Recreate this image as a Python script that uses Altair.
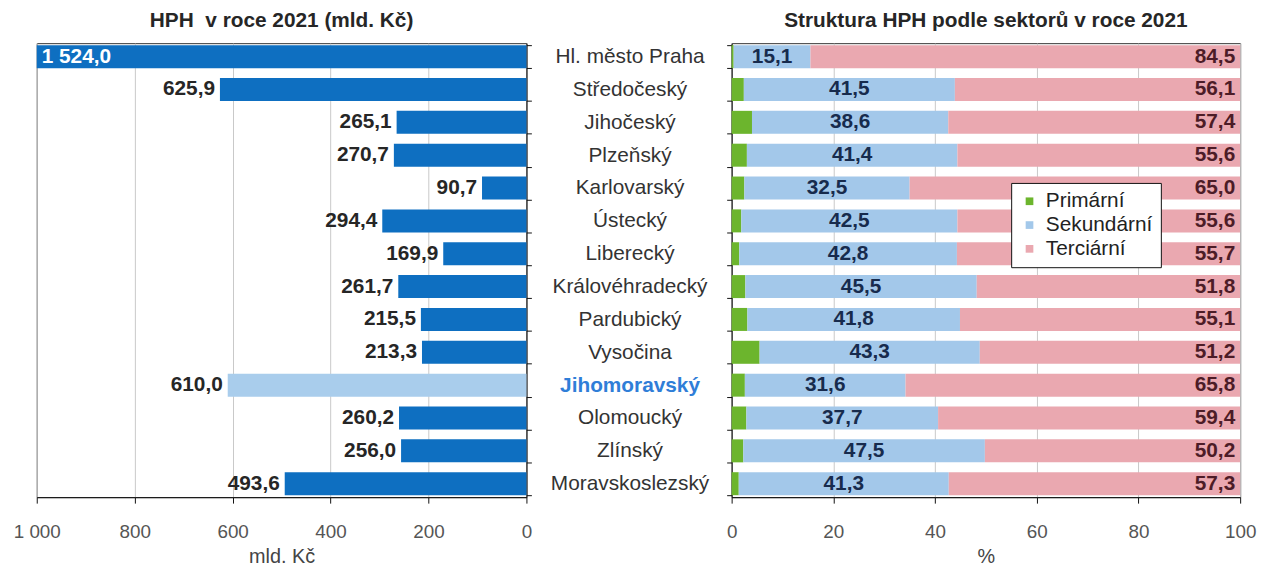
import altair as alt
import pandas as pd

FONT = "Liberation Sans, Arial, sans-serif"

regions = ["Hl. město Praha", "Středočeský", "Jihočeský", "Plzeňský", "Karlovarský",
           "Ústecký", "Liberecký", "Královéhradecký", "Pardubický", "Vysočina",
           "Jihomoravský", "Olomoucký", "Zlínský", "Moravskoslezský"]
hph = [1524.0, 625.9, 265.1, 270.7, 90.7, 294.4, 169.9, 261.7, 215.5, 213.3,
       610.0, 260.2, 256.0, 493.6]
primarni = [0.4, 2.4, 4.0, 3.0, 2.5, 1.9, 1.5, 2.7, 3.1, 5.5, 2.6, 2.9, 2.3, 1.4]
sekundarni = [15.1, 41.5, 38.6, 41.4, 32.5, 42.5, 42.8, 45.5, 41.8, 43.3, 31.6, 37.7, 47.5, 41.3]
terciarni = [84.5, 56.1, 57.4, 55.6, 65.0, 55.6, 55.7, 51.8, 55.1, 51.2, 65.8, 59.4, 50.2, 57.3]
sectors = ["Primární", "Sekundární", "Terciární"]
sector_colors = ["#6cb52d", "#a3c8ea", "#eaa8b0"]
highlight = "Jihomoravský"
left_ticks = [0, 200, 400, 600, 800, 1000]
right_ticks = [0, 20, 40, 60, 80, 100]


def cz(v):
    return f"{v:,.1f}".replace(",", " ").replace(".", ",")


left_df = pd.DataFrame({"region": regions, "hph": hph, "label": [cz(v) for v in hph]})
wide_df = pd.DataFrame({
    "region": regions, "prim": primarni, "sek": sekundarni, "ter": terciarni,
    "sek_label": [cz(v) for v in sekundarni], "ter_label": [cz(v) for v in terciarni],
})
rows = []
for i, r in enumerate(regions):
    for k, (s, vals) in enumerate(zip(sectors, [primarni, sekundarni, terciarni])):
        rows.append({"region": r, "sector": s, "value": vals[i], "ord": k})
long_df = pd.DataFrame(rows)

y_scale = alt.Scale(paddingInner=0.3, paddingOuter=0.06)
W_L, W_R, H = 494, 513, 458

# ---------- left panel ----------
base_l = alt.Chart(left_df).transform_calculate(xpos="min(datum.hph, 1000)")
x_scale_l = alt.Scale(domain=[0, 1000], reverse=True, clamp=True)
x_axis_l = alt.Axis(values=left_ticks, title="mld. Kč", grid=True, tickSize=6,
                    labelPadding=20, titlePadding=5, labelFlush=False,
                    labelExpr="replace(format(datum.value, ','), ',', ' ')")
x_l = alt.X("xpos:Q", scale=x_scale_l, axis=x_axis_l)
y_l = alt.Y("region:N", sort=regions, scale=y_scale,
            axis=alt.Axis(orient="right", labels=False, title=None, tickBand="extent",
                          tickSize=5, domainColor="#111", tickColor="#111"))

bars_l = base_l.mark_bar().encode(
    x=x_l, y=y_l,
    color=alt.condition(alt.datum.region == highlight, alt.value("#a9cdec"), alt.value("#0e6fc1")),
)
text_l = base_l.transform_filter("datum.hph <= 1000").mark_text(
    align="right", dx=-5, font=FONT, fontSize=21, fontWeight="bold", color="#262626"
).encode(x=x_l, y=y_l, text="label:N")
text_big = base_l.transform_filter("datum.hph > 1000").mark_text(
    align="left", dx=5, font=FONT, fontSize=21, fontWeight="bold", color="white"
).encode(x=x_l, y=y_l, text="label:N")

left = alt.layer(bars_l, text_l, text_big).properties(
    width=W_L, height=H, title=alt.Title("HPH\u00a0 v roce 2021 (mld. Kč)", offset=12))

# ---------- right panel ----------
x_scale_r = alt.Scale(domain=[0, 100])
x_axis_r = alt.Axis(values=right_ticks, title="%", grid=True, tickSize=6,
                    labelPadding=20, titlePadding=5, labelFlush=False)
y_r = alt.Y("region:N", sort=regions, scale=y_scale,
            axis=alt.Axis(orient="left", title=None, tickBand="extent", tickSize=5,
                          labelAlign="center", labelPadding=98, labelFontSize=21,
                          labelColor={"condition": {"test": f"datum.label == '{highlight}'", "value": "#2f7ed8"},
                                      "value": "#333333"},
                          labelFontWeight={"condition": {"test": f"datum.label == '{highlight}'", "value": "bold"},
                                           "value": "normal"},
                          domainColor="#111", tickColor="#111"))

bars_r = alt.Chart(long_df).mark_bar().encode(
    x=alt.X("value:Q", stack="zero", scale=x_scale_r, axis=x_axis_r),
    y=y_r,
    color=alt.Color("sector:N", scale=alt.Scale(domain=sectors, range=sector_colors),
                    legend=alt.Legend(orient="none", legendX=282, legendY=141, title=None,
                                      symbolType="square", symbolSize=60, symbolStrokeWidth=0,
                                      labelFontSize=21, labelFont=FONT, labelColor="#222",
                                      strokeColor="#111", fillColor="white", padding=8,
                                      rowPadding=2, labelOffset=6)),
    order=alt.Order("ord:Q"),
)
base_w = alt.Chart(wide_df).transform_calculate(
    mid="datum.prim + datum.sek / 2", total="datum.prim + datum.sek + datum.ter")
text_sek = base_w.mark_text(font=FONT, fontSize=21, fontWeight="bold", color="#172b4d").encode(
    x=alt.X("mid:Q", scale=x_scale_r, axis=x_axis_r), y=y_r, text="sek_label:N")
text_ter = base_w.mark_text(align="right", dx=-5, font=FONT, fontSize=21, fontWeight="bold",
                            color="#4d1c27").encode(
    x=alt.X("total:Q", scale=x_scale_r, axis=x_axis_r), y=y_r, text="ter_label:N")

right = alt.layer(bars_r, text_sek, text_ter).properties(
    width=W_R, height=H, title=alt.Title("Struktura HPH podle sektorů v roce 2021", offset=1))

chart = alt.hconcat(left, right, spacing=17).resolve_scale(color="independent").properties(
    padding={"left": 4, "top": -1, "right": 1, "bottom": 0}
).configure_view(stroke="#333333").configure_axis(
    labelFont=FONT, titleFont=FONT, labelFontSize=19, titleFontSize=20,
    labelColor="#555555", titleColor="#444444", titleFontWeight="normal",
    gridColor="#c8c8c8", domainColor="#111111", tickColor="#111111",
).configure_title(font=FONT, fontSize=21, fontWeight="bold", color="#262626",
                  frame="group", anchor="middle")

chart.save("out.html", embed_options={"renderer": "svg", "actions": False})
